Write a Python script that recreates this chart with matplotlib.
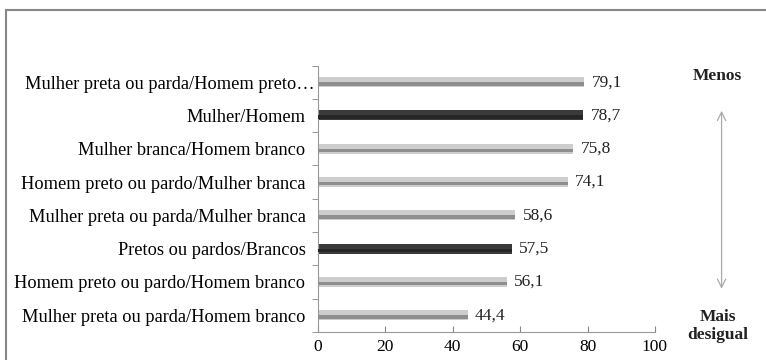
"""
Horizontal bar chart of income ratios between groups.
"""

import matplotlib
matplotlib.use("Agg")
import matplotlib.pyplot as plt
import matplotlib.transforms as mtransforms
from matplotlib.patches import Rectangle, FancyArrowPatch
import numpy as np

categories = [
    "Mulher preta ou parda/Homem preto…",
    "Mulher/Homem",
    "Mulher branca/Homem branco",
    "Homem preto ou pardo/Mulher branca",
    "Mulher preta ou parda/Mulher branca",
    "Pretos ou pardos/Brancos",
    "Homem preto ou pardo/Homem branco",
    "Mulher preta ou parda/Homem branco",
]
values = [79.1, 78.7, 75.8, 74.1, 58.6, 57.5, 56.1, 44.4]
highlight = [False, True, False, False, False, True, False, False]
x_ticks = [0, 20, 40, 60, 80, 100]

plt.rcParams["font.family"] = ["Liberation Serif", "DejaVu Serif"]
FS = 12.5

fig = plt.figure(figsize=(7.66, 3.6), dpi=100)
ax = fig.add_axes([0.415, 0.078, 0.44, 0.74])

y = np.arange(len(categories))[::-1]
light = ["#3a3a3a" if h else "#cdcdcd" for h in highlight]
dark = ["#262626" if h else "#8e8e8e" for h in highlight]

# soft bar body plus a darker lower band for the shaded look
ax.barh(y, values, height=0.30, color=light, edgecolor="none", zorder=2)
ax.barh(y - 0.05, values, height=0.10, color=dark, edgecolor="none", zorder=3)

for yi, v in zip(y, values):
    ax.text(v + 2.2, yi, f"{v:.1f}".replace(".", ","), va="center", ha="left",
            fontsize=FS, color="#222222")

ax.set_xlim(0, 100)
ax.set_ylim(-0.5, len(categories) - 0.5)
ax.set_xticks(x_ticks)
ax.set_xticklabels([str(t) for t in x_ticks], fontsize=FS)
ax.set_yticks(y)
ax.set_yticklabels(categories, fontsize=13.2)
ax.set_yticks(np.arange(-0.5, len(categories), 1.0), minor=True)
ax.tick_params(axis="y", which="major", length=0, pad=9)
ax.tick_params(axis="y", which="minor", length=4, color="#888888")
ax.tick_params(axis="x", length=4, direction="in", color="#888888", pad=5)

# the truncated top label runs a little closer to the axis
for lbl in ax.get_yticklabels():
    if lbl.get_text().endswith("…"):
        lbl.set_transform(lbl.get_transform() +
                          mtransforms.ScaledTranslation(0.09, 0, fig.dpi_scale_trans))

for side in ("top", "right"):
    ax.spines[side].set_visible(False)
for side in ("left", "bottom"):
    ax.spines[side].set_color("#999999")
    ax.spines[side].set_linewidth(0.8)

# outer frame, cut off on the right and bottom
fig.patches.append(Rectangle((6 / 766, -0.2), 1.2, 1.2 - 10 / 360,
                             transform=fig.transFigure, fill=False,
                             edgecolor="#888888", linewidth=1.5))

fig.text(0.937, 0.79, "Menos", ha="center", va="center",
         fontsize=FS, fontweight="bold", color="#222222")
fig.text(0.937, 0.095, "Mais\ndesigual", ha="center", va="center",
         fontsize=FS, fontweight="bold", color="#222222", linespacing=1.15)
fig.patches.append(FancyArrowPatch((0.942, 0.70), (0.942, 0.19),
                                   transform=fig.transFigure,
                                   arrowstyle="<->,head_length=6,head_width=3",
                                   color="#aaaaaa", linewidth=0.9))

fig.savefig("out.png", dpi=100)
